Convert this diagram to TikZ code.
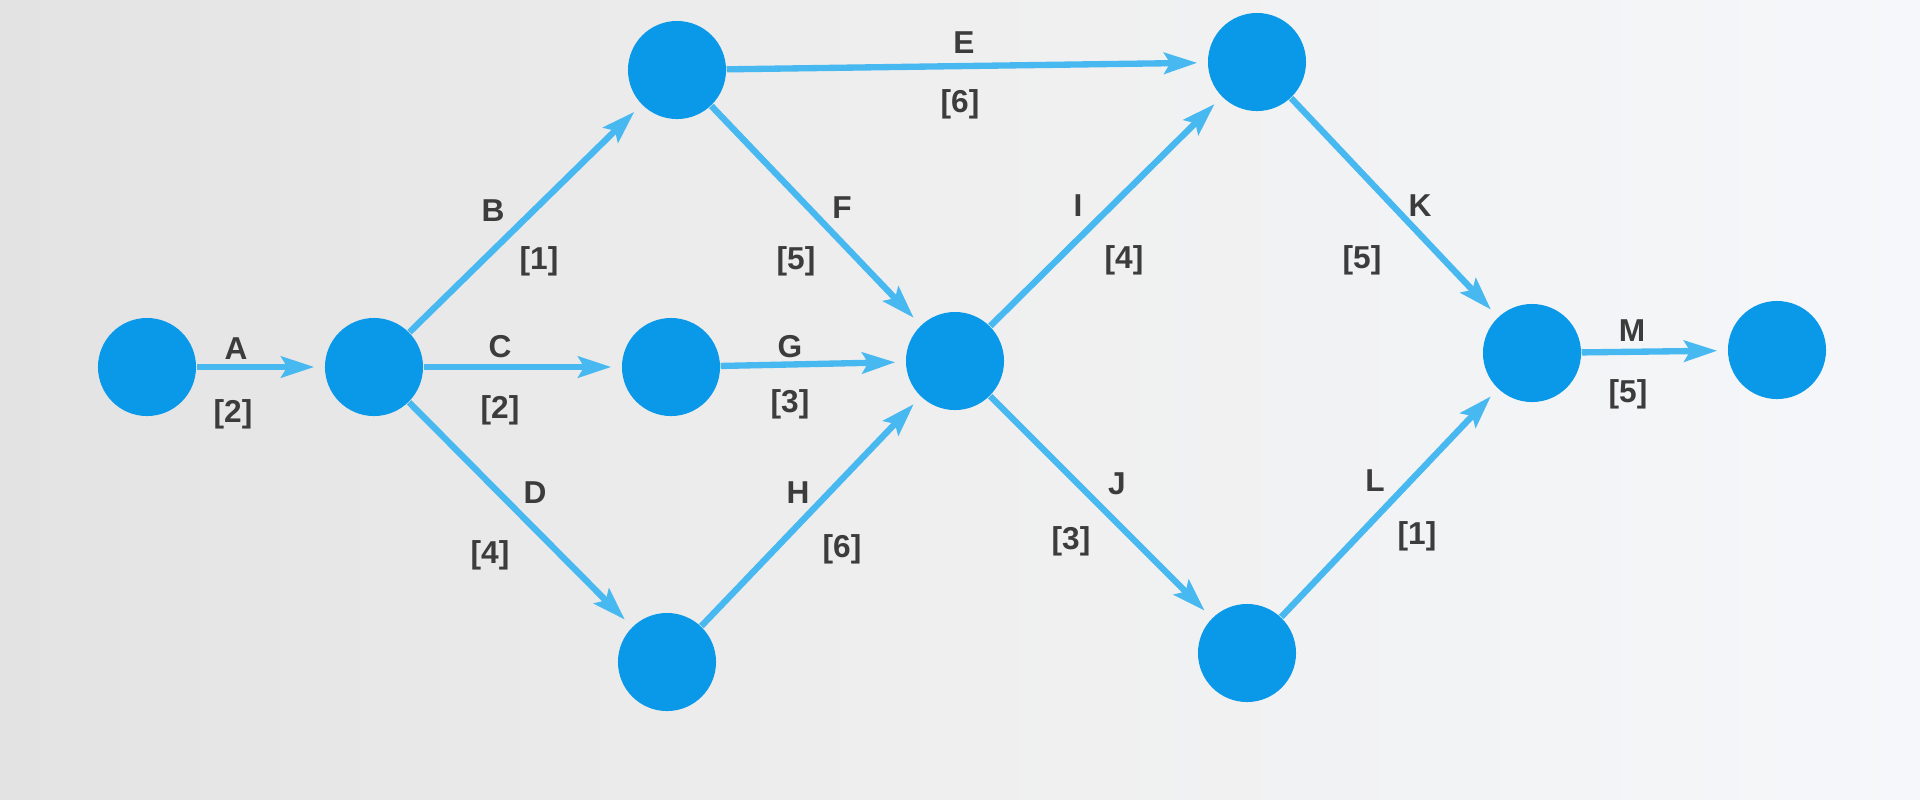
\documentclass[tikz,border=0pt]{standalone}
\usepackage{fontspec}
\setmainfont{Liberation Sans}
\usetikzlibrary{arrows.meta}
\definecolor{nodeblue}{HTML}{0A98E8}
\definecolor{arrowblue}{HTML}{48B8F0}
\definecolor{labelgray}{HTML}{3C3C3C}
\definecolor{bgleft}{HTML}{E3E3E3}
\definecolor{bgmid}{HTML}{EFEFEF}
\definecolor{bgright}{HTML}{F5F7FA}
\begin{document}
\begin{tikzpicture}[x=0.01cm,y=-0.01cm,
  evt/.style={circle,fill=nodeblue,draw=none,minimum size=0.98cm,inner sep=0pt},
  arr/.style={draw=arrowblue,line width=1.8pt,shorten >=0.1cm,
    -{Stealth[length=0.33cm,width=0.21cm,inset=0.06cm]}},
  lbl/.style={text=labelgray,font=\fontsize{9}{10}\selectfont\bfseries,inner sep=0pt}]
\shade[left color=bgleft,right color=bgright,middle color=bgmid] (0,0) rectangle (1920,799);
\useasboundingbox (0,0) rectangle (1920,799);
% events
\node[evt] (n1) at (147,367) {};
\node[evt] (n2) at (374,367) {};
\node[evt] (n3) at (677,70) {};
\node[evt] (n4) at (671,367) {};
\node[evt] (n5) at (667,662) {};
\node[evt] (n6) at (955,361) {};
\node[evt] (n7) at (1257,62) {};
\node[evt] (n8) at (1247,653) {};
\node[evt] (n9) at (1532,353) {};
\node[evt] (n10) at (1777,350) {};
% activities
\draw[arr] (n1) -- (n2);
\draw[arr] (n2) -- (n3);
\draw[arr] (n2) -- (n4);
\draw[arr] (n2) -- (n5);
\draw[arr] (n3) -- (n7);
\draw[arr] (n3) -- (n6);
\draw[arr] (n4) -- (n6);
\draw[arr] (n5) -- (n6);
\draw[arr] (n6) -- (n7);
\draw[arr] (n6) -- (n8);
\draw[arr] (n7) -- (n9);
\draw[arr] (n8) -- (n9);
\draw[arr] (n9) -- (n10);
% labels
\node[lbl] (lA) at (236,349) {A};
\node[lbl] (dA) at (233,414) {[2]};
\node[lbl] (lC) at (500,347) {C};
\node[lbl] (dC) at (500,410) {[2]};
\node[lbl] (lG) at (790,347) {G};
\node[lbl] (dG) at (790,404) {[3]};
\node[lbl] (lM) at (1632,331) {M};
\node[lbl] (dM) at (1628,394) {[5]};
\node[lbl] (lE) at (964,43) {E};
\node[lbl] (dE) at (960,104) {[6]};
\node[lbl] (lB) at (493,211) {B};
\node[lbl] (dB) at (539,261) {[1]};
\node[lbl] (lF) at (842,208) {F};
\node[lbl] (dF) at (796,261) {[5]};
\node[lbl] (lI) at (1078,206) {I};
\node[lbl] (dI) at (1124,260) {[4]};
\node[lbl] (lK) at (1420,206) {K};
\node[lbl] (dK) at (1362,260) {[5]};
\node[lbl] (lD) at (535,493) {D};
\node[lbl] (dD) at (490,555) {[4]};
\node[lbl] (lH) at (798,493) {H};
\node[lbl] (dH) at (842,549) {[6]};
\node[lbl] (lJ) at (1117,484) {J};
\node[lbl] (dJ) at (1071,541) {[3]};
\node[lbl] (lL) at (1375,481) {L};
\node[lbl] (dL) at (1417,536) {[1]};
\end{tikzpicture}
\end{document}
